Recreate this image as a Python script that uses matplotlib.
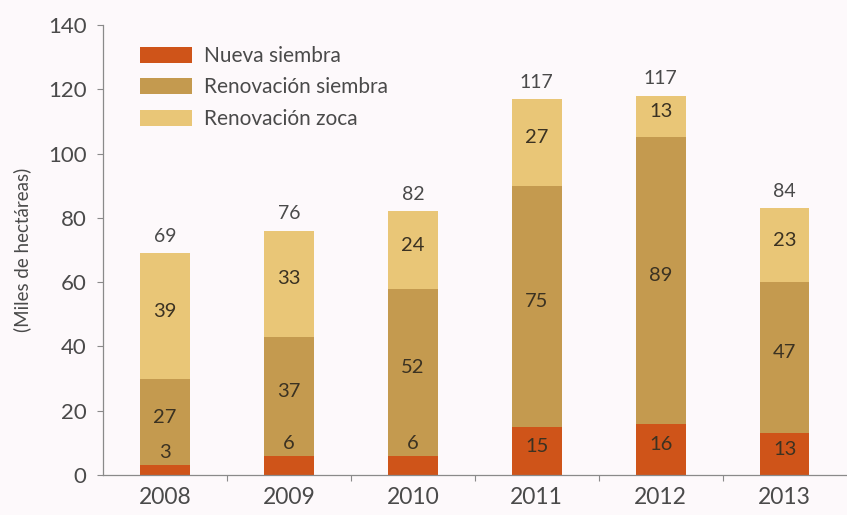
"""Stacked bars: hectáreas sembradas y renovadas por año."""

import matplotlib.pyplot as plt
from matplotlib.ticker import FixedLocator
import numpy as np

years = ['2008', '2009', '2010', '2011', '2012', '2013']
nueva_siembra = [3, 6, 6, 15, 16, 13]
renovacion_siembra = [27, 37, 52, 75, 89, 47]
renovacion_zoca = [39, 33, 24, 27, 13, 23]
totals = [69, 76, 82, 117, 117, 84]

series = [
    ('Nueva siembra', nueva_siembra, '#cf5419'),
    ('Renovación siembra', renovacion_siembra, '#c49a4f'),
    ('Renovación zoca', renovacion_zoca, '#e9c677'),
]

BG = '#fdf9fb'
AXIS = '#8a8a8a'
TEXT = '#4a4a4a'
SEG_TEXT = '#3b3222'

plt.rcParams['font.family'] = ['Lato', 'DejaVu Sans']

fig = plt.figure(figsize=(8.47, 5.15), dpi=100, facecolor=BG)
ax = fig.add_axes([0.1216, 0.0777, 0.878, 0.8738], facecolor=BG)

x = np.arange(len(years))
width = 0.4
bottom = np.zeros(len(years))
for label, vals, color in series:
    vals = np.asarray(vals, dtype=float)
    ax.bar(x, vals, width, bottom=bottom, color=color, label=label, linewidth=0)
    for xi, b, v in zip(x, bottom, vals):
        if v < 10:
            # thin segment: put the number just above it
            ax.annotate(str(int(v)), (xi, b + v), xytext=(0, 3),
                        textcoords='offset points', ha='center', va='bottom',
                        fontsize=14.5, color=SEG_TEXT)
        else:
            ax.text(xi, b + v / 2 + 1.5, str(int(v)), ha='center', va='center',
                    fontsize=14.5, color=SEG_TEXT)
    bottom += vals

for xi, top, t in zip(x, bottom, totals):
    ax.annotate(str(t), (xi, top), xytext=(0, 6), textcoords='offset points',
                ha='center', va='bottom', fontsize=14, color=TEXT)

ax.set_xlim(-0.5, len(years) - 0.5)
ax.set_ylim(0, 140)
ax.set_yticks(range(0, 141, 20))
ax.set_xticks(x)
ax.set_xticklabels(years)
ax.xaxis.set_minor_locator(FixedLocator(x[:-1] + 0.5))

for side in ('top', 'right'):
    ax.spines[side].set_visible(False)
for side in ('left', 'bottom'):
    ax.spines[side].set_color(AXIS)
    ax.spines[side].set_linewidth(0.9)

ax.tick_params(axis='y', length=4, width=0.8, color=AXIS, labelsize=16,
               labelcolor=TEXT, pad=8)
ax.tick_params(axis='x', which='major', length=0, labelsize=16.5,
               labelcolor=TEXT, pad=9)
ax.tick_params(axis='x', which='minor', length=4, width=0.8, color=AXIS)

ax.set_ylabel('(Miles de hectáreas)', fontsize=13.5, color=TEXT, labelpad=12)

ax.legend(loc='upper left', bbox_to_anchor=(0.025, 0.995), frameon=False,
          fontsize=15, handlelength=2.5, handleheight=0.8,
          labelspacing=0.55, handletextpad=0.55, labelcolor=TEXT)

fig.savefig('out.png', dpi=100, facecolor=BG)
